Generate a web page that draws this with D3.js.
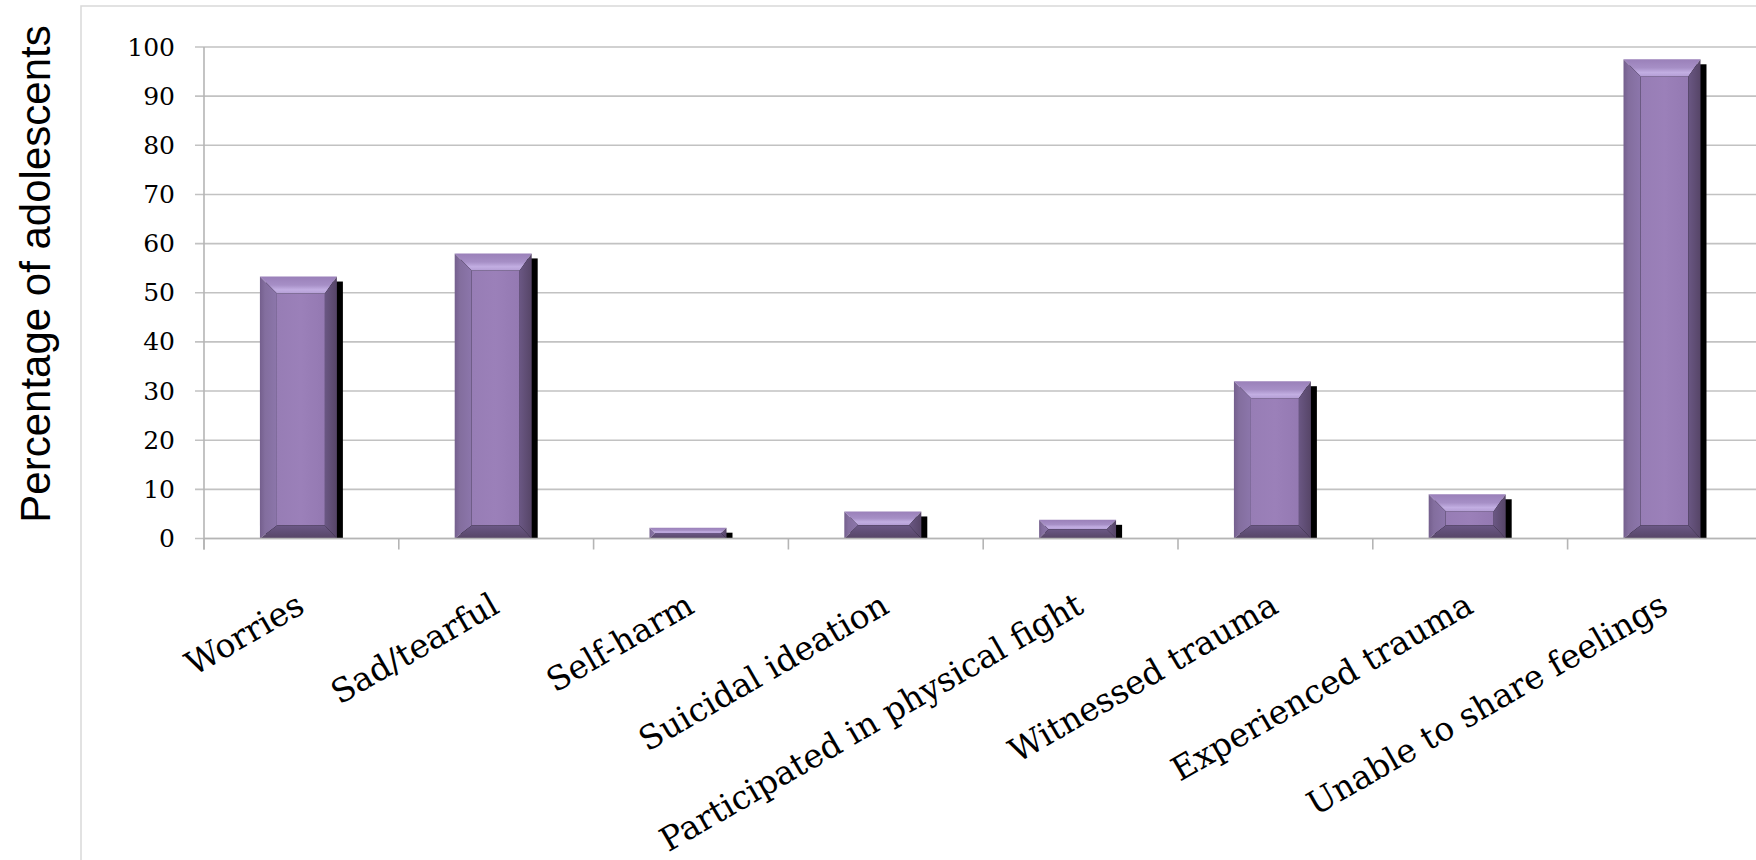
<!DOCTYPE html>
<html>
<head>
<meta charset="utf-8">
<script src="https://cdn.jsdelivr.net/npm/d3@7"></script>
<style>
  html, body { margin: 0; padding: 0; background: #ffffff; }
  svg { display: block; }
</style>
</head>
<body>
<svg id="chart" width="1756" height="860"></svg>
<script>
// Share of adolescents reporting each emotional / behavioural item (%)
const categories = [
  "Worries",
  "Sad/tearful",
  "Self-harm",
  "Suicidal ideation",
  "Participated in physical fight",
  "Witnessed trauma",
  "Experienced trauma",
  "Unable to share feelings"
];
const percentages = [53.3, 58, 2.2, 5.5, 3.8, 32, 9, 97.5];
const yTicks = [0, 10, 20, 30, 40, 50, 60, 70, 80, 90, 100];
const yTitle = "Percentage of adolescents";

const W = 1756, H = 860;
const svg = d3.select("#chart");

const plot = { left: 204, right: 1762.4, top: 47, bottom: 538.5 };

const x = d3.scaleBand()
  .domain(categories)
  .range([plot.left, plot.right])
  .paddingInner(0.574)
  .paddingOuter(0.287);

const y = d3.scaleLinear().domain([0, 100]).range([plot.bottom, plot.top]);

// gradients for the bevelled bar faces
const defs = svg.append("defs");
function grad(id, x1, y1, x2, y2, stops) {
  const g = defs.append("linearGradient").attr("id", id)
    .attr("x1", x1).attr("y1", y1).attr("x2", x2).attr("y2", y2);
  stops.forEach(([o, c]) => g.append("stop").attr("offset", o).attr("stop-color", c));
}
grad("bevTop", 0, 0, 0, 1, [[0, "#9a80b9"], [0.5, "#a68fc6"], [0.78, "#c2aee2"], [1, "#b49ed5"]]);
grad("bevLeft", 0, 0, 1, 0, [[0, "#745f8d"], [0.3, "#836e9e"], [1, "#8c76ab"]]);
grad("bevRight", 0, 0, 1, 0, [[0, "#6a5783"], [1, "#564567"]]);
grad("bevBottom", 0, 0, 0, 1, [[0, "#6b5886"], [1, "#564566"]]);
grad("face", 0, 0, 1, 0, [[0, "#977db5"], [0.5, "#9b80b9"], [1, "#9479b2"]]);

// chart frame
svg.append("path")
  .attr("d", `M${W},6 H81 V${H}`)
  .attr("fill", "none")
  .attr("stroke", "#d9d9d9")
  .attr("stroke-width", 1.5);

// horizontal gridlines (with left tick stubs)
svg.append("g")
  .selectAll("line")
  .data(yTicks)
  .join("line")
  .attr("x1", 195)
  .attr("x2", W)
  .attr("y1", d => y(d))
  .attr("y2", d => y(d))
  .attr("stroke", "#c2c2c2")
  .attr("stroke-width", 1.6);

// value axis
const yAxis = svg.append("g")
  .attr("transform", `translate(${plot.left},0)`)
  .call(d3.axisLeft(y).tickValues(yTicks).tickSize(0).tickPadding(29));
yAxis.select(".domain").remove();
yAxis.selectAll("text")
  .attr("font-family", "'DejaVu Serif', Georgia, serif")
  .attr("font-size", 25)
  .attr("fill", "#000");
svg.append("line")
  .attr("x1", plot.left).attr("x2", plot.left)
  .attr("y1", y(100)).attr("y2", plot.bottom + 11)
  .attr("stroke", "#b5b5b5").attr("stroke-width", 1.6);

// category ticks between bars
const boundaries = d3.range(categories.length + 1)
  .map(i => plot.left + i * x.step());
svg.append("g")
  .selectAll("line")
  .data(boundaries)
  .join("line")
  .attr("x1", d => d).attr("x2", d => d)
  .attr("y1", plot.bottom).attr("y2", plot.bottom + 11)
  .attr("stroke", "#b5b5b5").attr("stroke-width", 1.6);

// bars: drop shadow + bevelled front
const shadowDX = 6, shadowDY = 5;
const bars = svg.append("g")
  .selectAll("g")
  .data(categories.map((c, i) => ({ c, v: percentages[i] })))
  .join("g");

bars.append("rect")
  .attr("x", d => x(d.c) + shadowDX)
  .attr("y", d => y(d.v) + shadowDY)
  .attr("width", x.bandwidth() - shadowDX)
  .attr("height", d => Math.max(0, plot.bottom - y(d.v) - shadowDY))
  .attr("fill", "#000");

bars.each(function (d) {
  const g = d3.select(this);
  const x0 = x(d.c), x1 = x(d.c) + x.bandwidth() - shadowDX;
  const y0 = y(d.v), y1 = plot.bottom;
  const h = y1 - y0;
  const bt = Math.min(17, h / 2), bb = Math.min(13, h / 2);
  const bl = Math.min(17, h / 2), br = Math.min(12, h / 2);
  const poly = (pts, fill) => g.append("polygon")
    .attr("points", pts.map(p => p.join(",")).join(" "))
    .attr("fill", fill);
  poly([[x0 + bl, y0 + bt], [x1 - br, y0 + bt], [x1 - br, y1 - bb], [x0 + bl, y1 - bb]], "url(#face)");
  poly([[x0, y0], [x1, y0], [x1 - br, y0 + bt], [x0 + bl, y0 + bt]], "url(#bevTop)");
  poly([[x0, y0], [x0 + bl, y0 + bt], [x0 + bl, y1 - bb], [x0, y1]], "url(#bevLeft)");
  poly([[x1, y0], [x1, y1], [x1 - br, y1 - bb], [x1 - br, y0 + bt]], "url(#bevRight)");
  poly([[x0, y1], [x0 + bl, y1 - bb], [x1 - br, y1 - bb], [x1, y1]], "url(#bevBottom)");
});

// baseline
svg.append("line")
  .attr("x1", plot.left).attr("x2", W)
  .attr("y1", plot.bottom).attr("y2", plot.bottom)
  .attr("stroke", "#b5b5b5").attr("stroke-width", 1.6);

// rotated category labels
svg.append("g")
  .selectAll("text")
  .data(categories)
  .join("text")
  .attr("transform", d => `translate(${x(d) + x.bandwidth() / 2 + 5},${plot.bottom + 73}) rotate(-30)`)
  .attr("text-anchor", "end")
  .attr("font-family", "'DejaVu Serif', Georgia, serif")
  .attr("font-size", 33)
  .attr("fill", "#000")
  .text(d => d);

// axis title
svg.append("text")
  .attr("transform", `translate(50,274) rotate(-90)`)
  .attr("text-anchor", "middle")
  .attr("font-family", "'Liberation Sans', Arial, sans-serif")
  .attr("font-size", 42)
  .attr("fill", "#000")
  .text(yTitle);
</script>
</body>
</html>
